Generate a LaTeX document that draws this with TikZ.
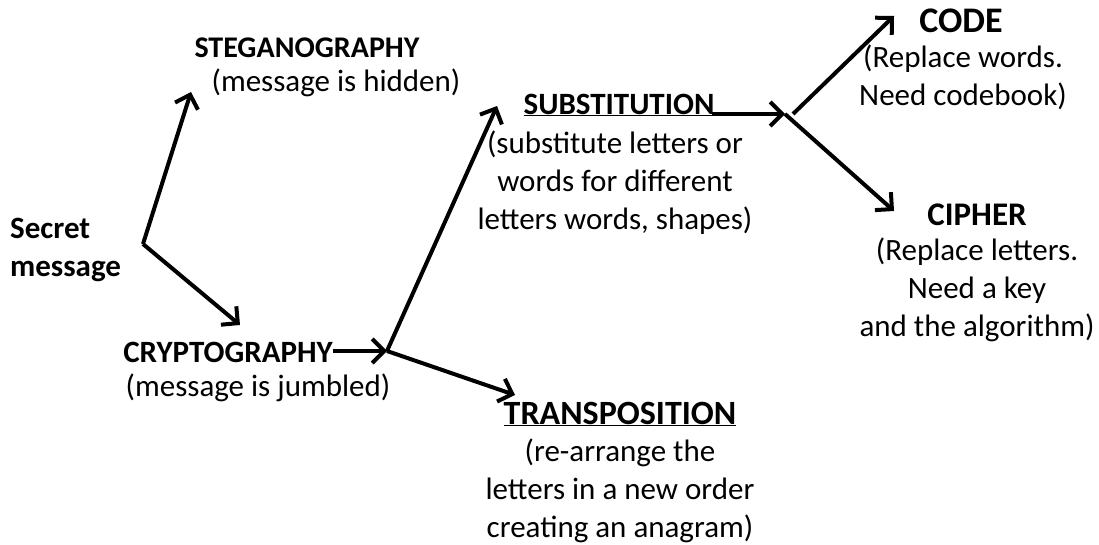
\documentclass[tikz,border=0pt]{standalone}
\usepackage{fontspec}
\setmainfont{Carlito}
\usetikzlibrary{arrows.meta}

\begin{document}
\begin{tikzpicture}[x=1pt,y=-1pt,
    txt/.style={inner sep=0pt,align=center,font=\fontsize{31}{38}\selectfont},
    head/.style={txt,font=\fontsize{#1}{38}\selectfont\bfseries},
    head/.default=31,
    arr/.style={line width=4pt,line join=miter,-{Straight Barb[length=12pt,width=24pt,line width=4pt]}}]
  \useasboundingbox (0,0) rectangle (1099,545);
  \node[head,anchor=west,align=left](secret)at(10,250){Secret\\message};
  \node[head=30](steg)at(307,48){STEGANOGRAPHY};
  \node[txt](steghid)at(336,83){(message is hidden)};
  \node[head](crypto)at(228,352){CRYPTOGRAPHY};
  \node[txt](cryptomsg)at(258,388){(message is jumbled)};
  \node[head](subst)at(619,105){\underline{SUBSTITUTION}};
  \node[txt](substmsg)at(615,183){(substitute letters or\\words for different\\letters words, shapes)};
  \node[head=34](trans)at(620,414){\underline{TRANSPOSITION}};
  \node[txt](transmsg)at(620,491){(re-arrange the\\letters in a new order\\creating an anagram)};
  \node[head=36](code)at(961,21){CODE};
  \node[txt](codemsg)at(963,77){(Replace words.\\Need codebook)};
  \node[head=33](cipher)at(977,215){CIPHER};
  \node[txt](ciphermsg)at(977,290){(Replace letters.\\Need a key\\and the algorithm)};
  \coordinate(j1)at(143,244);
  \coordinate(j2)at(387,351);
  \coordinate(j3)at(785,114);
  \coordinate(j3b)at(793,114);
  \coordinate(tsteg)at(191,92);
  \coordinate(tcrypto)at(240,325);
  \coordinate(tsubst)at(497,106);
  \coordinate(ttrans)at(515,395);
  \coordinate(tcode)at(894,16);
  \coordinate(tcipher)at(894,211);
  \draw[arr] (j1)--(tsteg);
  \draw[arr] (j1)--(tcrypto);
  \draw[arr] (crypto.east|-j2)--(j2);
  \draw[arr] (j2)--(tsubst);
  \draw[arr] (j2)--(ttrans);
  \draw[arr] ([xshift=-3pt]subst.east|-j3)--(j3);
  \draw[arr] (j3b)--(tcode);
  \draw[arr] (j3)--(tcipher);
\end{tikzpicture}
\end{document}
